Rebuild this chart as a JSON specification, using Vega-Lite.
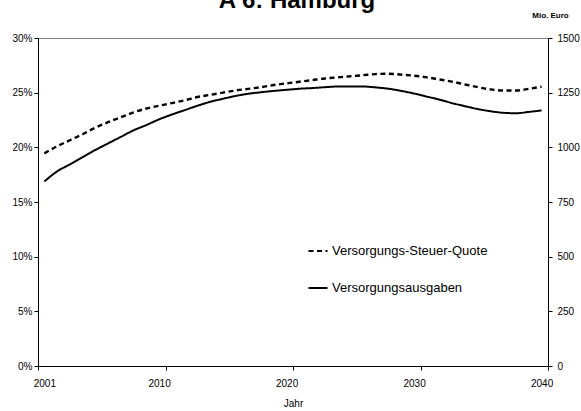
{
  "$schema": "https://vega.github.io/schema/vega-lite/v6.json",
  "width": 510,
  "height": 328,
  "autosize": {"type": "none"},
  "padding": {"left": 38, "top": 38, "right": 33, "bottom": 45},
  "background": "white",
  "config": {
    "view": {"stroke": "#808080", "strokeWidth": 1},
    "font": "Liberation Sans",
    "axis": {
      "labelFont": "Liberation Sans",
      "titleFont": "Liberation Sans",
      "labelColor": "#000",
      "titleColor": "#000",
      "domainColor": "#000",
      "tickColor": "#000",
      "grid": false,
      "labelFontSize": 10,
      "titleFontSize": 10,
      "titleFontWeight": "normal",
      "tickSize": 4
    }
  },
  "title": {
    "text": "A 6: Hamburg",
    "font": "Liberation Sans",
    "fontSize": 24,
    "fontWeight": "bold",
    "color": "#000",
    "anchor": "middle",
    "frame": "group",
    "baseline": "alphabetic",
    "dx": 4,
    "dy": 24,
    "offset": 3
  },
  "data": {
    "values": [
      {"Jahr": 2001, "Versorgungs-Steuer-Quote": 19.45, "Versorgungsausgaben": 844},
      {"Jahr": 2002, "Versorgungs-Steuer-Quote": 20.1, "Versorgungsausgaben": 890},
      {"Jahr": 2003, "Versorgungs-Steuer-Quote": 20.65, "Versorgungsausgaben": 922},
      {"Jahr": 2004, "Versorgungs-Steuer-Quote": 21.2, "Versorgungsausgaben": 955},
      {"Jahr": 2005, "Versorgungs-Steuer-Quote": 21.8, "Versorgungsausgaben": 988},
      {"Jahr": 2006, "Versorgungs-Steuer-Quote": 22.3, "Versorgungsausgaben": 1018},
      {"Jahr": 2007, "Versorgungs-Steuer-Quote": 22.75, "Versorgungsausgaben": 1048},
      {"Jahr": 2008, "Versorgungs-Steuer-Quote": 23.2, "Versorgungsausgaben": 1078},
      {"Jahr": 2009, "Versorgungs-Steuer-Quote": 23.55, "Versorgungsausgaben": 1102},
      {"Jahr": 2010, "Versorgungs-Steuer-Quote": 23.8, "Versorgungsausgaben": 1128},
      {"Jahr": 2011, "Versorgungs-Steuer-Quote": 24.05, "Versorgungsausgaben": 1150},
      {"Jahr": 2012, "Versorgungs-Steuer-Quote": 24.3, "Versorgungsausgaben": 1170},
      {"Jahr": 2013, "Versorgungs-Steuer-Quote": 24.6, "Versorgungsausgaben": 1190},
      {"Jahr": 2014, "Versorgungs-Steuer-Quote": 24.8, "Versorgungsausgaben": 1208},
      {"Jahr": 2015, "Versorgungs-Steuer-Quote": 25.0, "Versorgungsausgaben": 1222},
      {"Jahr": 2016, "Versorgungs-Steuer-Quote": 25.2, "Versorgungsausgaben": 1235},
      {"Jahr": 2017, "Versorgungs-Steuer-Quote": 25.35, "Versorgungsausgaben": 1245},
      {"Jahr": 2018, "Versorgungs-Steuer-Quote": 25.5, "Versorgungsausgaben": 1252},
      {"Jahr": 2019, "Versorgungs-Steuer-Quote": 25.7, "Versorgungsausgaben": 1258},
      {"Jahr": 2020, "Versorgungs-Steuer-Quote": 25.85, "Versorgungsausgaben": 1263},
      {"Jahr": 2021, "Versorgungs-Steuer-Quote": 26.0, "Versorgungsausgaben": 1268},
      {"Jahr": 2022, "Versorgungs-Steuer-Quote": 26.15, "Versorgungsausgaben": 1271},
      {"Jahr": 2023, "Versorgungs-Steuer-Quote": 26.3, "Versorgungsausgaben": 1275},
      {"Jahr": 2024, "Versorgungs-Steuer-Quote": 26.4, "Versorgungsausgaben": 1278},
      {"Jahr": 2025, "Versorgungs-Steuer-Quote": 26.5, "Versorgungsausgaben": 1278},
      {"Jahr": 2026, "Versorgungs-Steuer-Quote": 26.6, "Versorgungsausgaben": 1278},
      {"Jahr": 2027, "Versorgungs-Steuer-Quote": 26.7, "Versorgungsausgaben": 1274},
      {"Jahr": 2028, "Versorgungs-Steuer-Quote": 26.73, "Versorgungsausgaben": 1268},
      {"Jahr": 2029, "Versorgungs-Steuer-Quote": 26.65, "Versorgungsausgaben": 1258},
      {"Jahr": 2030, "Versorgungs-Steuer-Quote": 26.55, "Versorgungsausgaben": 1246},
      {"Jahr": 2031, "Versorgungs-Steuer-Quote": 26.4, "Versorgungsausgaben": 1232},
      {"Jahr": 2032, "Versorgungs-Steuer-Quote": 26.2, "Versorgungsausgaben": 1218},
      {"Jahr": 2033, "Versorgungs-Steuer-Quote": 26.0, "Versorgungsausgaben": 1202},
      {"Jahr": 2034, "Versorgungs-Steuer-Quote": 25.75, "Versorgungsausgaben": 1188},
      {"Jahr": 2035, "Versorgungs-Steuer-Quote": 25.5, "Versorgungsausgaben": 1175},
      {"Jahr": 2036, "Versorgungs-Steuer-Quote": 25.3, "Versorgungsausgaben": 1165},
      {"Jahr": 2037, "Versorgungs-Steuer-Quote": 25.2, "Versorgungsausgaben": 1158},
      {"Jahr": 2038, "Versorgungs-Steuer-Quote": 25.2, "Versorgungsausgaben": 1156},
      {"Jahr": 2039, "Versorgungs-Steuer-Quote": 25.35, "Versorgungsausgaben": 1162},
      {"Jahr": 2040, "Versorgungs-Steuer-Quote": 25.55, "Versorgungsausgaben": 1169}
    ]
  },
  "transform": [
    {"fold": ["Versorgungs-Steuer-Quote", "Versorgungsausgaben"], "as": ["serie", "wert"]}
  ],
  "encoding": {
    "strokeDash": {
      "field": "serie",
      "type": "nominal",
      "scale": {
        "domain": ["Versorgungs-Steuer-Quote", "Versorgungsausgaben"],
        "range": [[5, 3.5], [1, 0]]
      },
      "legend": {
        "title": null,
        "orient": "none",
        "legendX": 269,
        "legendY": 202,
        "symbolType": "stroke",
        "symbolSize": 361,
        "symbolStrokeWidth": 2.2,
        "symbolStrokeColor": "#000",
        "labelFont": "Liberation Sans",
        "labelFontSize": 13,
        "labelColor": "#000",
        "labelOffset": 3,
        "labelLimit": 400,
        "rowPadding": 19,
        "padding": 0
      }
    }
  },
  "layer": [
    {
      "transform": [{"filter": "datum.serie == 'Versorgungs-Steuer-Quote'"}],
      "mark": {"type": "line", "color": "#000", "strokeWidth": 2.4, "interpolate": "monotone"},
      "encoding": {
        "x": {
          "field": "Jahr",
          "type": "quantitative",
          "scale": {"domain": [2000.5, 2040.5], "nice": false, "zero": false},
          "axis": {
            "orient": "bottom",
            "values": [2000.5, 2010.5, 2020.5, 2030.5, 2040.5],
            "labels": false,
            "title": null
          }
        },
        "y": {
          "field": "wert",
          "type": "quantitative",
          "scale": {"domain": [0, 30], "nice": false},
          "axis": {
            "orient": "left",
            "values": [0, 5, 10, 15, 20, 25, 30],
            "labelExpr": "datum.value + '%'",
            "labelPadding": 2,
            "title": null
          }
        }
      }
    },
    {
      "transform": [{"filter": "datum.serie == 'Versorgungsausgaben'"}],
      "mark": {"type": "line", "color": "#000", "strokeWidth": 2, "interpolate": "monotone"},
      "encoding": {
        "x": {
          "field": "Jahr",
          "type": "quantitative",
          "axis": {
            "orient": "bottom",
            "values": [2001, 2010, 2020, 2030, 2040],
            "format": "d",
            "ticks": false,
            "domain": false,
            "tickSize": 0,
            "labelPadding": 12,
            "labelFlush": false,
            "title": "Jahr",
            "titlePadding": 10
          }
        },
        "y": {
          "field": "wert",
          "type": "quantitative",
          "scale": {"domain": [0, 1500], "nice": false},
          "axis": {
            "orient": "right",
            "values": [0, 250, 500, 750, 1000, 1250, 1500],
            "format": "d",
            "labelPadding": 5,
            "title": "Mio. Euro",
            "titleFontWeight": "bold",
            "titleFontSize": 8,
            "titleAngle": 0,
            "titleAlign": "center",
            "titleBaseline": "alphabetic",
            "titleX": 2,
            "titleY": -21
          }
        }
      }
    }
  ],
  "resolve": {"scale": {"y": "independent"}, "axis": {"x": "independent"}}
}
